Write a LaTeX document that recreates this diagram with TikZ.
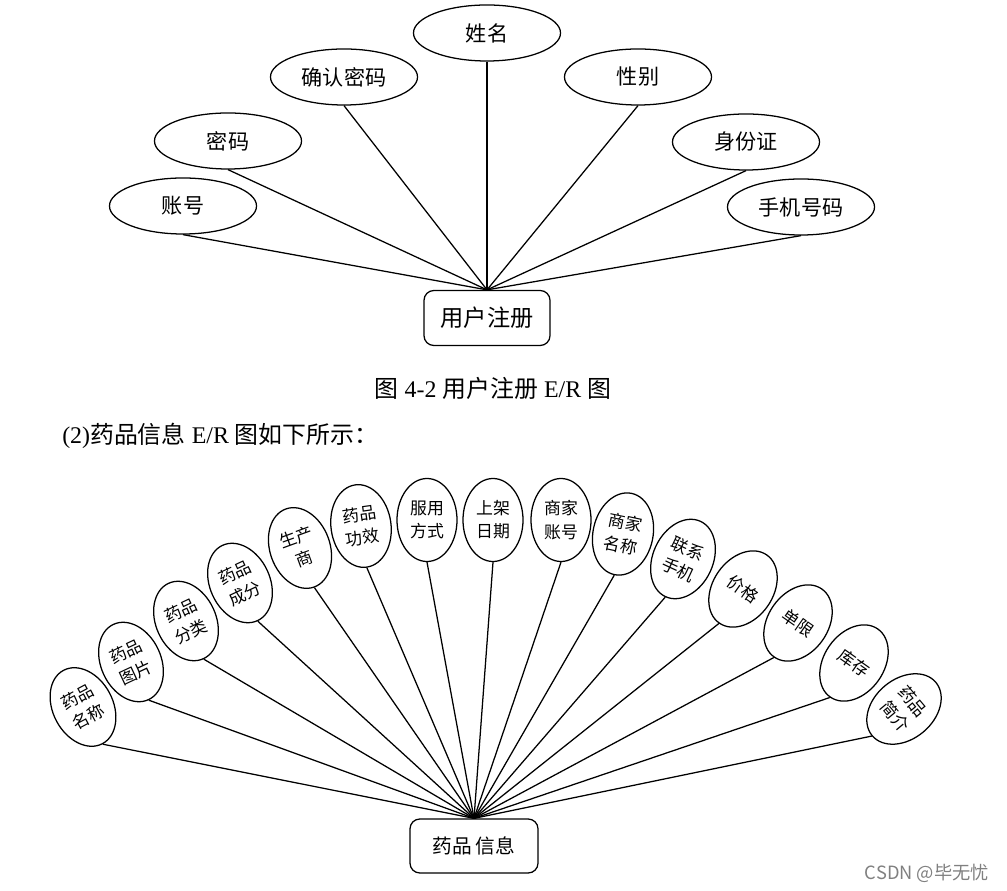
\documentclass[tikz,border=0pt]{standalone}
\usepackage{fontspec}
\setmainfont{Liberation Serif}
\newfontfamily\cjk{Noto Sans CJK SC}
\usetikzlibrary{shapes.geometric}
\tikzset{attr/.style={draw, ellipse, line width=0.9pt, minimum width=3.675cm, minimum height=1.4cm, inner sep=0pt, font=\cjk\fontsize{15}{18}\selectfont},
  sattr/.style={draw, ellipse, line width=0.9pt, minimum width=1.5cm, minimum height=2.075cm, inner sep=0pt, align=center, font=\cjk\fontsize{12}{16.5}\selectfont},
  ent/.style={draw, rounded corners=7pt, line width=0.9pt, minimum width=3.15cm, minimum height=1.375cm, align=center},
  link/.style={line width=0.9pt}}

\begin{document}
\begin{tikzpicture}[x=0.025cm, y=-0.025cm]
  \useasboundingbox (0,0) rectangle (1007,891);
  \node[ent, font=\cjk\fontsize{16.5}{18}\selectfont] (zc) at (487,318) {用户注册};
  \foreach \n/\x/\y/\t in {zh/183/206/账号, mm/228/141/密码, qr/344/77/确认密码, xm/487/33/姓名,
      xb/638/77/性别, sfz/746/142/身份证, sj/801/207/手机号码}{
    \node[attr] (\n) at (\x,\y) {\t};
    \draw[link] (\n.south) -- (zc.north);
  }
  \node[font=\fontsize{17}{20}\selectfont] (cap) at (493,388) {{\cjk 图} 4-2 {\cjk 用户注册} E/R {\cjk 图}};
  \node[anchor=west, inner sep=0pt, font=\fontsize{17}{20}\selectfont] (txt) at (62,436) {(2){\cjk 药品信息} E/R {\cjk 图如下所示：}};
  \node[ent, minimum width=3.2cm, minimum height=1.35cm, font=\cjk\fontsize{14}{16}\selectfont] (yp) at (474,846) {药品\,信息};
  \foreach \n/\x/\y/\a/\t in {ypmc/83/707/28/{药品\\名称}, yptp/131/662/25/{药品\\图片}, ypfl/186/621/25/{药品\\分类},
      ypcf/240/583/25/{药品\\成分}, scs/300/548/20/{生产\\商}, ypgx/361/526/8/{药品\\功效},
      fyfs/427/520/0/{服用\\方式}, sjrq/493/520/0/{上架\\日期}, sjzh/561/520/0/{商家\\账号},
      sjmc/623/534/-12/{商家\\名称}, lxsj/683/559/-25/{联系\\手机}, jg/743/589/-35/{价格},
      dx/798/623/-35/{单限}, kc/854/663/-35/{库存}, ypjj/904/709/-50/{药品\\简介}}{
    \node[sattr, rotate=\a] (\n) at (\x,\y) {\t};
    \draw[link] (\n.south) -- (yp.north);
  }
  \node[text=gray, font=\cjk\fontsize{13}{15}\selectfont] (wm) at (927,873) {CSDN @毕无忧};
\end{tikzpicture}
\end{document}
